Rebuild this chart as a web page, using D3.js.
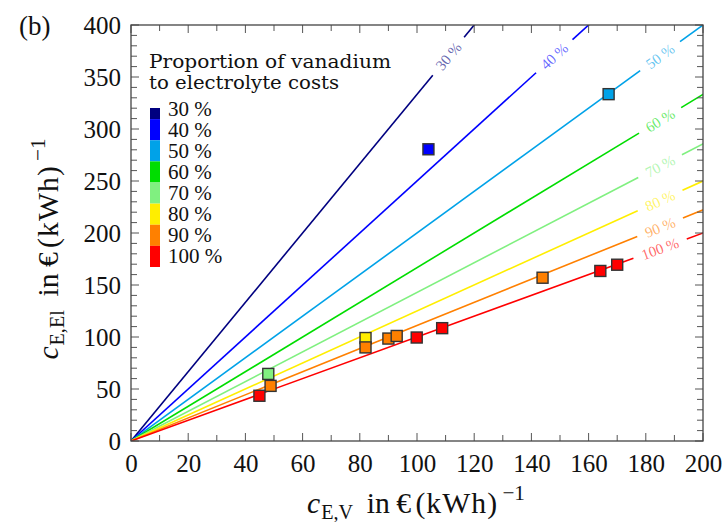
<!DOCTYPE html>
<html>
<head>
<meta charset="utf-8">
<script src="https://cdn.jsdelivr.net/npm/d3@7/dist/d3.min.js"></script>
<style>
  body { margin: 0; background: #fff; }
  svg { font-family: 'Liberation Serif', 'DejaVu Serif', serif; }
</style>
</head>
<body>
<svg id="chart" width="727" height="522"></svg>
<script>
// proportions of vanadium to electrolyte costs
const shares = [0.3, 0.4, 0.5, 0.6, 0.7, 0.8, 0.9, 1.0];
const shareLabels = ['30 %', '40 %', '50 %', '60 %', '70 %', '80 %', '90 %', '100 %'];
const shareColors = ['#000080', '#0000ff', '#00a2e8', '#00dd00', '#80f080', '#ffee00', '#ff8000', '#ff0000'];

// measured points: vanadium cost, electrolyte cost, share index
const pointV = [48.0, 48.8, 44.9, 82.0, 82.0, 90.0, 92.9, 99.9, 108.8, 104.0, 167.0, 143.9, 164.1, 170.0];
const pointEl = [64.5, 53.0, 43.5, 99.0, 90.0, 98.5, 101.0, 99.5, 108.5, 280.5, 333.5, 157.0, 163.5, 169.5];
const pointShare = [4, 6, 7, 5, 6, 6, 6, 7, 7, 1, 2, 6, 7, 7];

const xTicks = [0, 20, 40, 60, 80, 100, 120, 140, 160, 180, 200];
const yTicks = [0, 50, 100, 150, 200, 250, 300, 350, 400];

const margin = { left: 131, top: 25, right: 24, bottom: 81 };
const svg = d3.select('#chart');
const width = 727 - margin.left - margin.right;
const height = 522 - margin.top - margin.bottom;
const g = svg.append('g').attr('transform', `translate(${margin.left},${margin.top})`);

const x = d3.scaleLinear().domain([0, 200]).range([0, width]);
const y = d3.scaleLinear().domain([0, 400]).range([height, 0]);

g.append('clipPath').attr('id', 'plot')
  .append('rect').attr('width', width).attr('height', height);

// share lines with a gap for the label
const lines = g.append('g').attr('clip-path', 'url(#plot)');
const lineLabels = g.append('g').attr('font-size', 15);
shares.forEach((p, i) => {
  const slope = 1 / p;
  const lx = Math.min(185, 370 * p);
  const px = x(lx);
  const py = y(lx * slope);
  const ex = Math.min(200, 400 * p);
  const dx = x(ex) - x(0);
  const dy = y(ex * slope) - y(0);
  const len = Math.hypot(dx, dy);
  const ux = dx / len;
  const uy = dy / len;
  const t = lineLabels.append('text')
    .attr('transform', `translate(${px},${py}) rotate(${Math.atan2(dy, dx) * 180 / Math.PI})`)
    .attr('text-anchor', 'middle')
    .attr('dy', '0.35em')
    .attr('fill', shareColors[i])
    .attr('fill-opacity', 0.6)
    .text(shareLabels[i]);
  const half = t.node().getComputedTextLength() / 2 + 9;
  const segs = [
    [[x(0), y(0)], [px - ux * half, py - uy * half]],
    [[px + ux * half, py + uy * half], [x(ex) + ux * 5, y(ex * slope) + uy * 5]],
  ];
  segs.forEach((s) => {
    lines.append('line')
      .attr('x1', s[0][0]).attr('y1', s[0][1])
      .attr('x2', s[1][0]).attr('y2', s[1][1])
      .attr('stroke', shareColors[i])
      .attr('stroke-width', 1.6);
  });
});

// points
g.append('g').selectAll('rect')
  .data(pointV)
  .join('rect')
  .attr('x', (d) => x(d) - 5.5)
  .attr('y', (d, i) => y(pointEl[i]) - 5.5)
  .attr('width', 11)
  .attr('height', 11)
  .attr('fill', (d, i) => shareColors[pointShare[i]])
  .attr('stroke', '#333')
  .attr('stroke-width', 1.4);

// frame and ticks
const tickStroke = '#555';
const minorX = d3.range(0, 201, 10);
const minorY = d3.range(0, 401, 10);
const tk = g.append('g').attr('stroke', tickStroke).attr('stroke-width', 1);
minorX.forEach((v) => {
  const l = v % 20 === 0 ? 8 : 6;
  tk.append('line').attr('x1', x(v)).attr('x2', x(v)).attr('y1', height).attr('y2', height - l);
  tk.append('line').attr('x1', x(v)).attr('x2', x(v)).attr('y1', 0).attr('y2', l);
});
minorY.forEach((v) => {
  const l = v % 50 === 0 ? 8 : 6;
  tk.append('line').attr('y1', y(v)).attr('y2', y(v)).attr('x1', 0).attr('x2', l);
  tk.append('line').attr('y1', y(v)).attr('y2', y(v)).attr('x1', width).attr('x2', width - l);
});
g.append('rect')
  .attr('width', width).attr('height', height)
  .attr('fill', 'none').attr('stroke', '#444').attr('stroke-width', 1.3);

const xAxis = g.append('g').attr('transform', `translate(0,${height})`)
  .call(d3.axisBottom(x).tickValues(xTicks).tickSize(0).tickPadding(13));
const yAxis = g.append('g')
  .call(d3.axisLeft(y).tickValues(yTicks).tickSize(0).tickPadding(10));
[xAxis, yAxis].forEach((a) => {
  a.select('.domain').remove();
  a.selectAll('text').attr('font-size', 25).attr('font-family', 'Liberation Serif').attr('fill', '#111');
});

// axis titles, sized so the x title spans about 218px like the reference
function axisTitle(sel, sub, k) {
  sel.selectAll('tspan').remove();
  sel.attr('font-size', 28 * k);
  sel.append('tspan').attr('font-style', 'italic').text('c');
  sel.append('tspan').attr('font-size', 19 * k).attr('dy', 6 * k).attr('dx', 1).text(sub);
  sel.append('tspan').attr('dy', -6 * k).attr('dx', 13 * k).text('in');
  sel.append('tspan').attr('dx', 6 * k).text('€');
  sel.append('tspan').attr('dx', 4 * k).attr('letter-spacing', k).text('(kWh)');
  sel.append('tspan').attr('font-size', 20 * k).attr('dy', -12 * k).attr('dx', 4 * k).text('−1');
}
const xt = svg.append('text').attr('x', 416).attr('y', 513)
  .attr('text-anchor', 'middle').attr('fill', '#111');
axisTitle(xt, 'E,V', 1);
const k = Math.min(1.15, 218 / xt.node().getBBox().width);
axisTitle(xt, 'E,V', k);

const yt = svg.append('text').attr('transform', 'translate(58,249) rotate(-90)')
  .attr('text-anchor', 'middle').attr('fill', '#111');
axisTitle(yt, 'E,El', k);

svg.append('text').attr('x', 19).attr('y', 35).attr('font-size', 27).attr('fill', '#111').text('(b)');

// legend
const lg = svg.append('g').attr('fill', '#111');
lg.append('text').attr('x', 149).attr('y', 68).attr('font-size', 19)
  .attr('font-family', 'DejaVu Serif').attr('textLength', 242).attr('lengthAdjust', 'spacingAndGlyphs')
  .text('Proportion of vanadium');
lg.append('text').attr('x', 149).attr('y', 89).attr('font-size', 19)
  .attr('font-family', 'DejaVu Serif').attr('textLength', 190).attr('lengthAdjust', 'spacingAndGlyphs')
  .text('to electrolyte costs');
const band = d3.scaleBand().domain(shareLabels).range([98, 267]).padding(0);
lg.selectAll('rect')
  .data(shareLabels)
  .join('rect')
  .attr('x', 150)
  .attr('width', 10)
  .attr('y', (d) => Math.max(108, band(d)))
  .attr('height', (d) => band(d) + band.bandwidth() - Math.max(108, band(d)))
  .attr('fill', (d, i) => shareColors[i]);
lg.selectAll('text.lab')
  .data(shareLabels)
  .join('text')
  .attr('class', 'lab')
  .attr('x', 168)
  .attr('y', (d) => band(d) + band.bandwidth() / 2 + 7)
  .attr('font-size', 21)
  .text((d) => d);
</script>
</body>
</html>
